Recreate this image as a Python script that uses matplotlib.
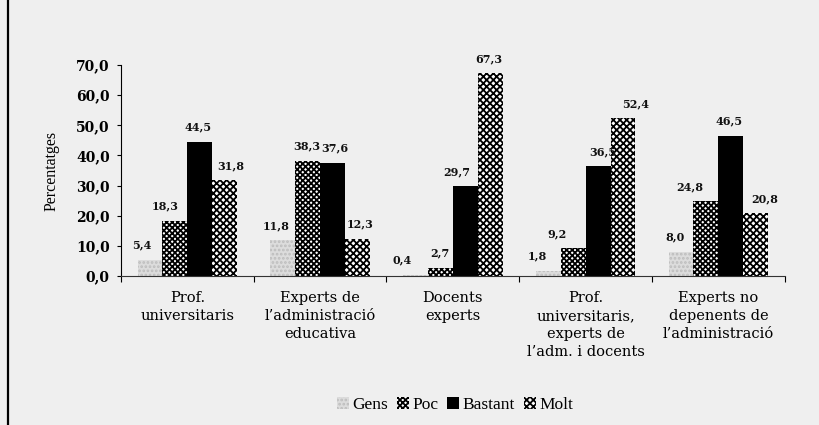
import matplotlib
matplotlib.use("Agg")
import matplotlib.pyplot as plt
import numpy as np
from matplotlib.lines import Line2D
from matplotlib.patches import Patch

categories = ["Prof.\nuniversitaris",
              "Experts de\nl\u2019administraci\u00f3\neducativa",
              "Docents\nexperts",
              "Prof.\nuniversitaris,\nexperts de\nl\u2019adm. i docents",
              "Experts no\ndepenents de\nl\u2019administraci\u00f3"]
series_names = ["Gens", "Poc", "Bastant", "Molt"]
gens = [5.4, 11.8, 0.4, 1.8, 8.0]
poc = [18.3, 38.3, 2.7, 9.2, 24.8]
bastant = [44.5, 37.6, 29.7, 36.5, 46.5]
molt = [31.8, 12.3, 67.3, 52.4, 20.8]
yticks = [0, 10, 20, 30, 40, 50, 60, 70]
ytick_labels = ["0,0", "10,0", "20,0", "30,0", "40,0", "50,0", "60,0", "70,0"]

# label horizontal nudges (pixels), style only
label_dx = [[-8, -7, -13, -11, -6],
            [-10, -1, -1, -16, -16],
            [-2, 2, -9, 5, -2],
            [6, 3, -1, 13, 9]]

styles = [dict(facecolor="#dcdcdc", edgecolor="#bdbdbd", hatch="....", linewidth=0),
          dict(facecolor="white", edgecolor="black", hatch="xxxxxx", linewidth=0),
          dict(facecolor="black", edgecolor="black", hatch=None, linewidth=0),
          dict(facecolor="white", edgecolor="black", hatch="xxxxx", linewidth=0)]

bg = "#efefef"
plt.rcParams["hatch.linewidth"] = 1.3

fig = plt.figure(figsize=(8.19, 4.25), dpi=100, facecolor=bg)
ax = fig.add_axes([0.1477, 0.3506, 0.8105, 0.4964])
ax.set_facecolor(bg)

data = [gens, poc, bastant, molt]
x = np.arange(len(categories))
w = 0.1875
for i, vals in enumerate(data):
    pos = x + (i - 1.5) * w
    ax.bar(pos, vals, width=w, label=series_names[i], **styles[i])
    for j, v in enumerate(vals):
        ax.annotate(f"{v:.1f}".replace(".", ","), (pos[j], v),
                    xytext=(label_dx[i][j] * 0.72, 10.5), textcoords="offset points",
                    ha="center", va="center", fontsize=8, fontweight="bold",
                    family="DejaVu Serif", color="#111111")

ax.set_xlim(-0.5, 4.5)
ax.set_ylim(0, 70)
ax.set_yticks(yticks)
ax.set_yticklabels(ytick_labels, fontsize=10, fontweight="bold", family="DejaVu Serif")
ax.set_xticks(x)
ax.set_xticklabels(categories, fontsize=10.5, family="DejaVu Serif", linespacing=1.35)
ax.set_xticks(np.arange(-0.5, 5, 1), minor=True)
ax.tick_params(axis="x", which="major", length=0, pad=11)
ax.tick_params(axis="x", which="minor", length=4, direction="out", width=0.8)
ax.tick_params(axis="y", length=3, direction="out", width=0.8, pad=5)
for s in ["top", "right"]:
    ax.spines[s].set_visible(False)
ax.spines["left"].set_linewidth(0.8)
ax.spines["bottom"].set_linewidth(0.8)
ax.spines["bottom"].set_color("#333333")

ax.set_ylabel("Percentatges", fontsize=11.5, family="Liberation Serif", labelpad=12)

handles = [Patch(**styles[i], label=series_names[i]) for i in range(4)]
fig.legend(handles=handles, loc="center", bbox_to_anchor=(455 / 819, 1 - 405 / 425),
           ncol=4, frameon=False, handlelength=0.7, handleheight=0.7,
           handletextpad=0.2, columnspacing=0.5,
           prop={"family": "Liberation Serif", "size": 12.5})

fig.add_artist(Line2D([8 / 819, 8 / 819], [0, 1], transform=fig.transFigure,
                      color="black", linewidth=1.6))

fig.savefig("out.png", dpi=100, facecolor=bg)
